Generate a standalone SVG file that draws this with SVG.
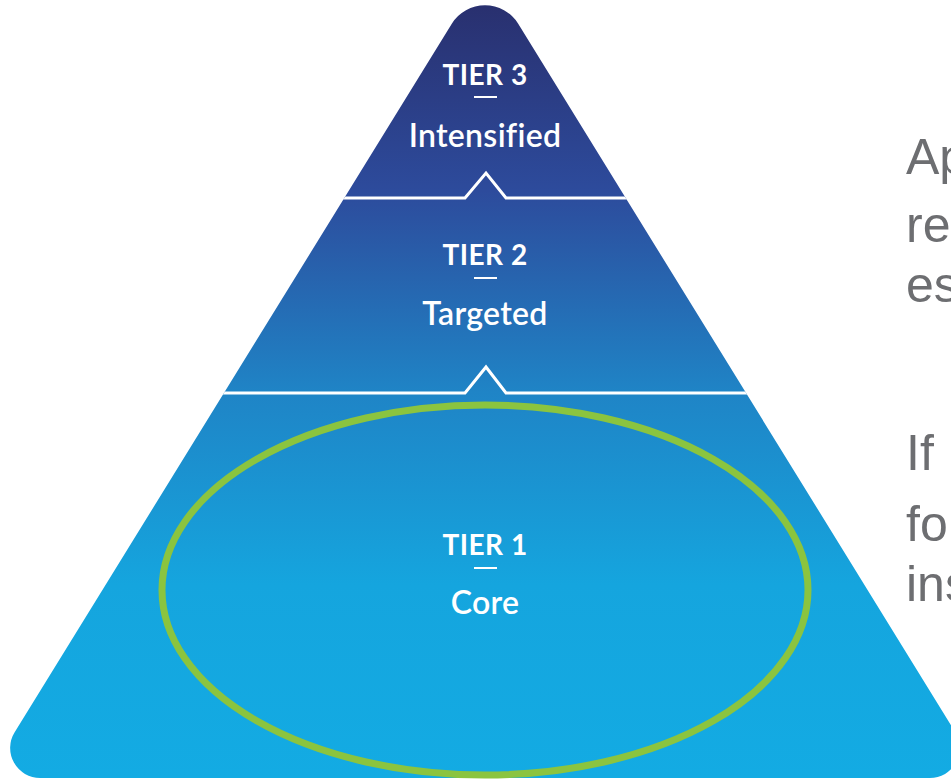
<svg xmlns="http://www.w3.org/2000/svg" width="951" height="780" viewBox="0 0 951 780">
  <style>
    .tier { font-family: Lato, "Open Sans", sans-serif; font-weight: 700; font-size: 28px; fill: #ffffff; text-anchor: middle; letter-spacing: 0.5px; }
    .name { font-family: Lato, "Open Sans", sans-serif; font-weight: 600; font-size: 32px; fill: #ffffff; text-anchor: middle; letter-spacing: 0.3px; }
    .dash { stroke: #ffffff; stroke-width: 2; }
    .divider { fill: none; stroke: #ffffff; stroke-width: 3; }
    .side { font-family: "Liberation Sans", Arial, sans-serif; font-size: 50px; fill: #6d6e71; }
  </style>
  <defs>
    <linearGradient id="pyramidFill" gradientUnits="userSpaceOnUse" x1="0" y1="5" x2="0" y2="778">
      <stop offset="0" stop-color="#29306f"/>
      <stop offset="0.24" stop-color="#2d4b9c"/>
      <stop offset="0.5" stop-color="#1f84c6"/>
      <stop offset="0.75" stop-color="#15a5de"/>
      <stop offset="1" stop-color="#13abe3"/>
    </linearGradient>
    <clipPath id="pyramidClip">
      <path d="M451.8,23.8 A39,39 0 0 1 518.2,23.8 L955.35,732.2 A30,30 0 0 1 929.8,778 L40.2,778 A30,30 0 0 1 14.65,732.2 Z"/>
    </clipPath>
  </defs>

  <!-- pyramid body -->
  <g id="pyramid">
    <path d="M451.8,23.8 A39,39 0 0 1 518.2,23.8 L955.35,732.2 A30,30 0 0 1 929.8,778 L40.2,778 A30,30 0 0 1 14.65,732.2 Z" fill="url(#pyramidFill)"/>
  </g>

  <!-- tier boundaries with chevrons -->
  <g id="connectors" clip-path="url(#pyramidClip)">
    <polyline class="divider" points="0,198 465,198 486,173 506,198 951,198"/>
    <polyline class="divider" points="0,393 465,393 486,367 506,393 951,393"/>
  </g>

  <g id="tier3">
    <text class="tier" x="485" y="85">TIER 3</text>
    <line class="dash" x1="474" y1="97" x2="497" y2="97"/>
    <text class="name" x="485" y="147">Intensified</text>
  </g>

  <g id="tier2">
    <text class="tier" x="485" y="265">TIER 2</text>
    <line class="dash" x1="474" y1="278" x2="497" y2="278"/>
    <text class="name" x="485" y="325">Targeted</text>
  </g>

  <g id="tier1">
    <ellipse cx="485" cy="590" rx="323" ry="185" fill="none" stroke="#8bc43f" stroke-width="7"/>
    <text class="tier" x="485" y="555">TIER 1</text>
    <line class="dash" x1="474" y1="568" x2="497" y2="568"/>
    <text class="name" x="485" y="614">Core</text>
  </g>

  <!-- side notes, running on past the right edge -->
  <g id="notes">
    <text class="side" x="906" y="174">Ap</text>
    <text class="side" x="906" y="242">re</text>
    <text class="side" x="906" y="302">es</text>
    <text class="side" x="906" y="470">If</text>
    <text class="side" x="906" y="541">fo</text>
    <text class="side" x="906" y="601">ins</text>
  </g>
</svg>
